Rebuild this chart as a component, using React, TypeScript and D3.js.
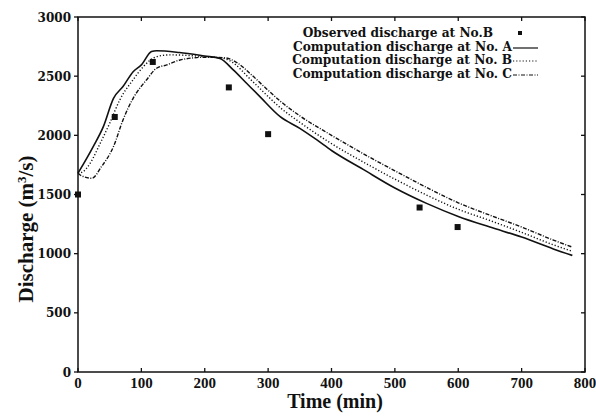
import React from "react";
import * as d3 from "d3";

const xTicks = [0, 100, 200, 300, 400, 500, 600, 700, 800];
const yTicks = [0, 500, 1000, 1500, 2000, 2500, 3000];

const observedT = [0, 58, 118, 238, 300, 539, 599];
const observedQ = [1500, 2155, 2620, 2405, 2010, 1390, 1225];

const timeA = [0, 24, 40, 56, 71, 87, 100, 116, 124, 160, 200, 224, 245, 266, 287, 319, 350, 377, 400, 450, 500, 550, 600, 650, 700, 750, 780];
const flowA = [1680, 1905, 2074, 2313, 2412, 2538, 2595, 2708, 2715, 2700, 2670, 2650, 2553, 2440, 2327, 2158, 2059, 1961, 1872, 1712, 1555, 1425, 1315, 1225, 1140, 1040, 985];

const timeB = [0, 8, 19, 35, 50, 66, 87, 103, 124, 145, 200, 230, 248, 268, 290, 320, 350, 400, 450, 500, 550, 600, 650, 700, 750, 780];
const flowB = [1680, 1693, 1763, 1932, 2102, 2300, 2470, 2580, 2665, 2680, 2665, 2650, 2600, 2495, 2380, 2230, 2110, 1930, 1775, 1630, 1495, 1375, 1280, 1180, 1075, 1020];

const timeC = [0, 5, 22, 37, 56, 71, 87, 108, 124, 140, 161, 200, 232, 252, 272, 292, 320, 350, 400, 450, 500, 550, 600, 650, 700, 750, 780];
const flowC = [1680, 1660, 1637, 1735, 1905, 2130, 2313, 2468, 2567, 2595, 2637, 2660, 2655, 2610, 2520, 2420, 2285, 2165, 2000, 1845, 1700, 1560, 1430, 1325, 1225, 1115, 1055];

const legendLabels = [
  "Observed discharge at No.B",
  "Computation discharge at No. A",
  "Computation discharge at No. B",
  "Computation discharge at No. C",
];

export default function App() {
  const x = d3.scaleLinear().domain([0, 800]).range([78, 585]);
  const y = d3.scaleLinear().domain([0, 3000]).range([372, 17]);
  const line = d3
    .line<[number, number]>()
    .x((d) => x(d[0]))
    .y((d) => y(d[1]))
    .curve(d3.curveMonotoneX);
  const zip = (t: number[], q: number[]) => t.map((v, i) => [v, q[i]] as [number, number]);

  const series = [
    { d: line(zip(timeA, flowA)), dash: "none", w: 1.6 },
    { d: line(zip(timeB, flowB)), dash: "1.2,2", w: 1.4 },
    { d: line(zip(timeC, flowC)), dash: "4,1.5,1,1.5", w: 1.4 },
  ];

  const [x0, x1] = x.range();
  const [y0, y1] = y.range();
  const legendFont = "'DejaVu Serif', serif";
  const rowY = [33, 47, 60, 74];

  return (
    <svg
      width={596}
      height={416}
      style={{ position: "absolute", left: 0, top: 0, background: "#fff" }}
    >
      <rect x={x0} y={y1} width={x1 - x0} height={y0 - y1} fill="none" stroke="#111" strokeWidth={1.5} />
      {xTicks.map((t) => (
        <g key={"xt" + t}>
          <line x1={x(t)} x2={x(t)} y1={y0} y2={y0 - 4} stroke="#111" strokeWidth={1.3} />
          <line x1={x(t)} x2={x(t)} y1={y1} y2={y1 + 4} stroke="#111" strokeWidth={1.3} />
          <text
            x={x(t)}
            y={388}
            textAnchor="middle"
            fontFamily="'Liberation Serif', serif"
            fontWeight="bold"
            fontSize={15}
            fill="#111"
          >
            {t}
          </text>
        </g>
      ))}
      {yTicks.map((v) => (
        <g key={"yt" + v}>
          <line x1={x0} x2={x0 - 4} y1={y(v)} y2={y(v)} stroke="#111" strokeWidth={1.3} />
          <line x1={x1} x2={x1 - 4} y1={y(v)} y2={y(v)} stroke="#111" strokeWidth={1.3} />
          <text
            x={71}
            y={y(v) + 4.5}
            textAnchor="end"
            fontFamily="'DejaVu Serif', serif"
            fontWeight="bold"
            fontSize={12}
            fill="#111"
          >
            {v}
          </text>
        </g>
      ))}
      {series.map((s, i) => (
        <path
          key={"s" + i}
          d={s.d || ""}
          fill="none"
          stroke="#111"
          strokeWidth={s.w}
          strokeDasharray={s.dash}
        />
      ))}
      {observedT.map((t, i) => (
        <rect
          key={"o" + i}
          x={x(t) - 3}
          y={y(observedQ[i]) - 3}
          width={6}
          height={6}
          fill="#111"
        />
      ))}
      <text x={493} y={rowY[0] + 4} textAnchor="end" fontFamily={legendFont} fontWeight="bold" fontSize={12.2} fill="#111">
        {legendLabels[0]}
      </text>
      <rect x={518} y={rowY[0] - 2} width={4} height={4} fill="#111" />
      {[1, 2, 3].map((k) => (
        <g key={"lg" + k}>
          <text x={512} y={rowY[k] + 4} textAnchor="end" fontFamily={legendFont} fontWeight="bold" fontSize={12.2} fill="#111">
            {legendLabels[k]}
          </text>
          <line
            x1={513}
            x2={538}
            y1={rowY[k] + 1}
            y2={rowY[k] + 1}
            stroke="#111"
            strokeWidth={1.2}
            strokeDasharray={series[k - 1].dash}
          />
        </g>
      ))}
      <text
        x={335}
        y={408}
        textAnchor="middle"
        fontFamily="'Liberation Serif', serif"
        fontWeight="bold"
        fontSize={20}
        fill="#111"
      >
        Time (min)
      </text>
      <text
        transform={`translate(33, 229) rotate(-90)`}
        textAnchor="middle"
        fontFamily="'Liberation Serif', serif"
        fontWeight="bold"
        fontSize={21}
        fill="#111"
      >
        Discharge (m<tspan dy={-7} fontSize={13}>3</tspan>
        <tspan dy={7}>/s)</tspan>
      </text>
    </svg>
  );
}
